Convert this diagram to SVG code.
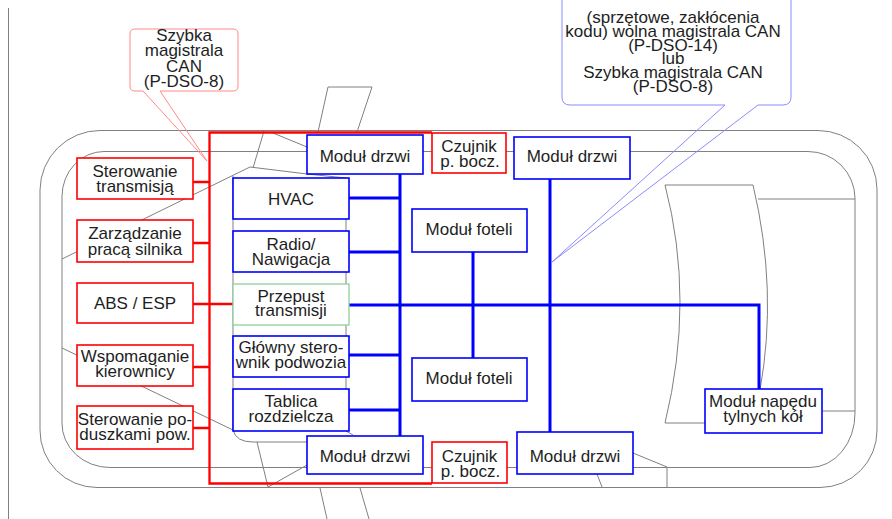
<svg xmlns="http://www.w3.org/2000/svg" width="892" height="519" viewBox="0 0 892 519">
<style>
.car{fill:none;stroke:#808080;stroke-width:1}
.rb{fill:#fff;stroke:#ff0000;stroke-width:1.6}
.bb{fill:#fff;stroke:#0000ff;stroke-width:1.6}
.gb{fill:#fff;stroke:#8fd09a;stroke-width:1.3}
.t{font-family:"Liberation Sans",Arial,sans-serif;font-size:17px;fill:#1e1e1e;text-anchor:middle}
.rl{stroke:#ff0000;stroke-width:2.3;fill:none}
.bl{stroke:#0000ff;stroke-width:3;fill:none}
.cr{fill:none;stroke:#ff8a8a;stroke-width:1}
.cb{fill:none;stroke:#8a8aff;stroke-width:1}
</style>
<rect width="892" height="519" fill="#fff"/>
<g id="car">
<line class="car" x1="8.5" y1="8" x2="8.5" y2="519"/>
<path class="car" d="M100,130.5 H818 A59,59 0 0 1 877,189 V430 A57,57 0 0 1 820,487.5 H97 A57,57 0 0 1 40,430 V190 A60,60 0 0 1 100,130.5 Z"/>
<path class="car" d="M104,151.5 H808 A47,47 0 0 1 855,198 V413 A45,54 0 0 1 810,467.5 H110 A48,44 0 0 1 62,423 V196 A42,45 0 0 1 104,151.5 Z"/>
<path class="car" d="M318,132 L328,87 H372 L357,132"/>
<path class="car" d="M264,131 L253,168"/>
<path class="car" d="M273,133 L307,147"/>
<path class="car" d="M62,259 L250,167 L307,174 L346,178 V431 L353,435"/>
<path class="car" d="M233,176 V430 Q236,442 253,442 H307"/>
<path class="car" d="M62,348 L233,430"/>
<path class="car" d="M257,442 L268,487 L307,465"/>
<path class="car" d="M320,488 L327,519 M360,488 L369,519"/>
<path class="car" d="M597,474 L602,487 M633,453 L667,467 V487"/>
<path class="car" d="M665,423 H705 M665,423 Q695,300 665,185 H753 Q778,290 760,390 M758,199 H855 M822,411 H855"/>
</g>
<g id="callouts">
<path class="cr" d="M130,86 V34 Q130,29 135,29 H233 Q238,29 238,34 V86 Q238,91 233,91 H160 L207,161 L143,91 H135 Q130,91 130,86 Z"/>
<path class="cb" d="M562,-10 V97 Q562,105 570,105 H725 L552,262 L758,105 H783 Q791,105 791,97 V-10"/>
<text class="t" x="184" y="41">Szybka</text>
<text class="t" x="184" y="56">magistrala</text>
<text class="t" x="184" y="71.5">CAN</text>
<text class="t" x="184" y="87">(P-DSO-8)</text>
<text class="t" x="673" y="23">(sprzętowe, zakłócenia</text>
<text class="t" x="673" y="37">kodu) wolna magistrala CAN</text>
<text class="t" x="673" y="50.5">(P-DSO-14)</text>
<text class="t" x="673" y="64">lub</text>
<text class="t" x="673" y="78">Szybka magistrala CAN</text>
<text class="t" x="673" y="92">(P-DSO-8)</text>
</g>
<g id="connectors">
<path class="rl" d="M432,132.5 H209.5 V483.5 H432"/>
<path class="rl" d="M193,182 H209 M193,243 H209 M193,304 H233 M193,367 H209 M193,428 H209"/>
<path class="bl" d="M400,174 V436 M349,198 H400 M349,252 H400 M349,355 H400 M349,410 H400"/>
<path class="bl" d="M349,305 H759 V389 M473,252 V358 M550,179 V432"/>
</g>
<g id="n-sterowanie-transmisja"><rect class="rb" x="77" y="158" width="116" height="41"/><text class="t" x="135" y="177">Sterowanie</text><text class="t" x="135" y="192">transmisją</text></g>
<g id="n-zarzadzanie"><rect class="rb" x="77" y="220" width="116" height="42"/><text class="t" x="135" y="239">Zarządzanie</text><text class="t" x="135" y="255">pracą silnika</text></g>
<g id="n-abs"><rect class="rb" x="77" y="283" width="116" height="40"/><text class="t" x="135" y="309">ABS / ESP</text></g>
<g id="n-wspomaganie"><rect class="rb" x="77" y="345" width="116" height="41"/><text class="t" x="135" y="362">Wspomaganie</text><text class="t" x="135" y="377">kierownicy</text></g>
<g id="n-poduszki"><rect class="rb" x="77" y="406" width="116" height="43"/><text class="t" x="135" y="425">Sterowanie po-</text><text class="t" x="135" y="440">duszkami pow.</text></g>
<g id="n-hvac"><rect class="bb" x="233" y="178" width="116" height="41"/><text class="t" x="291" y="205">HVAC</text></g>
<g id="n-radio"><rect class="bb" x="233" y="231" width="116" height="41"/><text class="t" x="291" y="250">Radio/</text><text class="t" x="291" y="265">Nawigacja</text></g>
<g id="n-przepust"><rect class="gb" x="233" y="284" width="116" height="41"/><text class="t" x="291" y="302">Przepust</text><text class="t" x="291" y="316">transmisji</text></g>
<g id="n-glowny"><rect class="bb" x="233" y="336" width="116" height="41"/><text class="t" x="291" y="353">Główny stero-</text><text class="t" x="291" y="368">wnik podwozia</text></g>
<g id="n-tablica"><rect class="bb" x="233" y="389" width="116" height="42"/><text class="t" x="291" y="407">Tablica</text><text class="t" x="291" y="422">rozdzielcza</text></g>
<g id="n-drzwi-tl"><rect class="bb" x="307" y="135" width="116" height="39"/><text class="t" x="365" y="162">Moduł drzwi</text></g>
<g id="n-czujnik-t"><rect class="rb" x="432" y="133" width="74" height="40"/><text class="t" x="469" y="152">Czujnik</text><text class="t" x="470" y="167">p. bocz.</text></g>
<g id="n-drzwi-tr"><rect class="bb" x="514" y="137" width="116" height="42"/><text class="t" x="572" y="162">Moduł drzwi</text></g>
<g id="n-fotele-t"><rect class="bb" x="412" y="209" width="115" height="43"/><text class="t" x="469" y="235">Moduł foteli</text></g>
<g id="n-fotele-b"><rect class="bb" x="412" y="358" width="115" height="43"/><text class="t" x="469" y="384">Moduł foteli</text></g>
<g id="n-drzwi-bl"><rect class="bb" x="307" y="436" width="116" height="38"/><text class="t" x="365" y="462">Moduł drzwi</text></g>
<g id="n-czujnik-b"><rect class="rb" x="432" y="442" width="75" height="41"/><text class="t" x="469.5" y="462">Czujnik</text><text class="t" x="470.5" y="477">p. bocz.</text></g>
<g id="n-drzwi-br"><rect class="bb" x="517" y="432" width="116" height="42"/><text class="t" x="575" y="462">Moduł drzwi</text></g>
<g id="n-naped"><rect class="bb" x="705" y="389" width="117" height="44"/><text class="t" x="763" y="407">Moduł napędu</text><text class="t" x="763" y="422">tylnych kół</text></g>
</svg>
